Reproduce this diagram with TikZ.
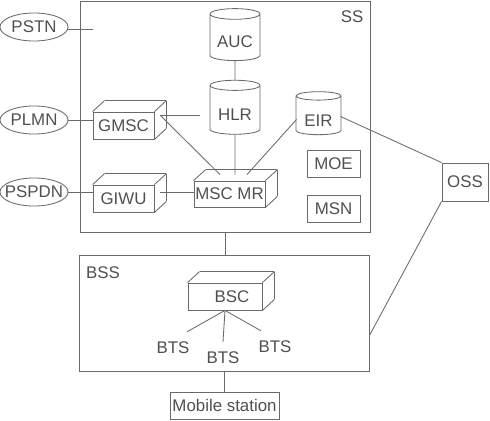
\documentclass[tikz,border=0pt]{standalone}
\usepackage{fontspec}
\setmainfont{Liberation Sans}
\usetikzlibrary{shapes.geometric}
\definecolor{linegray}{RGB}{105,105,105}
\definecolor{textgray}{RGB}{80,80,80}

\begin{document}
\begin{tikzpicture}
    [x=0.025cm, y=-0.025cm, color=linegray, text=textgray, line width=0.6pt,
     every node/.style={font=\fontsize{12pt}{14pt}\selectfont},
     net/.style={ellipse, draw, minimum width=1.7cm, minimum height=0.7cm, inner xsep=-10pt, inner ysep=0pt},
     db/.style={cylinder, shape border rotate=90, draw, aspect=0.3, minimum width=1.25cm, minimum height=1.3cm, inner sep=0pt, text height=15pt},
     unit/.style={rectangle, draw, minimum width=1.325cm, minimum height=0.675cm, inner sep=0pt},
     box/.style={rectangle, draw, minimum width=1.525cm, minimum height=0.675cm, inner sep=0pt,
       append after command={
         (\tikzlastnode.north west) edge ([shift={(12,-11)}]\tikzlastnode.north west)
         ([shift={(12,-11)}]\tikzlastnode.north west) edge ([shift={(12,-11)}]\tikzlastnode.north east)
         (\tikzlastnode.north east) edge ([shift={(12,-11)}]\tikzlastnode.north east)
         ([shift={(12,-11)}]\tikzlastnode.north east) edge ([shift={(12,-11)}]\tikzlastnode.south east)
         ([shift={(12,-11)}]\tikzlastnode.south east) edge (\tikzlastnode.south east)}}]
  \useasboundingbox (0,0) rectangle (490,420);

  % subsystems
  \node[rectangle, draw, minimum width=7.25cm, minimum height=5.775cm] (SS) at (225,116.5) {};
  \node (SSlabel) at (352,17) {SS};
  \node[rectangle, draw, minimum width=7.25cm, minimum height=2.9cm] (BSS) at (224,313) {};
  \node (BSSlabel) at (103,273) {BSS};

  % outside networks
  \node[net] (PSTN) at (34,27) {PSTN};
  \node[net] (PLMN) at (34,120) {PLMN};
  \node[net] (PSPDN) at (34,192) {PSPDN};
  \coordinate (stub) at (93,29);

  \node[box] (GMSC) at (123.5,125.5) {GMSC};
  \node[box] (GIWU) at (123.5,198.5) {GIWU};
  \node[box, minimum width=1.775cm, minimum height=0.65cm] (MSC) at (229.5,194) {MSC MR};
  \node[box, minimum width=1.85cm] (BSC) at (225,296.5) {\hspace{0.35cm}BSC};

  \node[db] (AUC) at (235,37.5) {AUC};
  \node[db, minimum height=1.35cm] (HLR) at (235,110) {HLR};
  \node[db, minimum width=1.125cm, minimum height=1.075cm] (EIR) at (318.5,115.5) {EIR};

  \node[unit] (MOE) at (333.5,163.5) {MOE};
  \node[unit] (MSN) at (333.5,208.5) {MSN};
  \node[unit, minimum width=1.15cm, minimum height=0.95cm] (OSS) at (465,182) {OSS};
  \node[unit, minimum width=2.725cm] (MS) at (224.5,405.5) {Mobile station};

  \node[inner ysep=7pt] (BTS1) at (173,348) {BTS};
  \node[inner ysep=7pt] (BTS2) at (223,358) {BTS};
  \node[inner ysep=7pt] (BTS3) at (275,347) {BTS};

  % links
  \draw (PSTN.east |- stub) -- (stub);
  \draw (PLMN.east) -- (PLMN.east -| GMSC.west);
  \draw (PSPDN.east) -- (PSPDN.east -| GIWU.west);
  \draw (AUC) -- (HLR);
  \draw ([shift={(6,-10)}]GMSC.east) coordinate (gside) -- ([xshift=-25]HLR.center |- gside);
  \draw (gside) -- ([shift={(-9.5,-6)}]MSC.north);
  \draw (HLR) -- ([shift={(5.5,-6)}]MSC.north);
  \draw ([shift={(-22,4)}]EIR.center) -- ([shift={(17.5,-6)}]MSC.north);
  \draw ([shift={(22,1)}]EIR.center) -- (OSS.north west);
  \draw ([shift={(6,-6)}]GIWU.east) coordinate (wside) -- (wside -| MSC.west);
  \draw (OSS.south west) -- ([yshift=-16]BSS.east);
  \draw (SS.south) -- (SS.south |- BSS.north);
  \draw (BSC.south) -- ([xshift=10]BTS1.north);
  \draw (BSC.south) -- (BTS2.north);
  \draw (BSC.south) -- ([xshift=-10]BTS3.north);
  \draw (BSS.south) -- (BSS.south |- MS.north);
\end{tikzpicture}
\end{document}
